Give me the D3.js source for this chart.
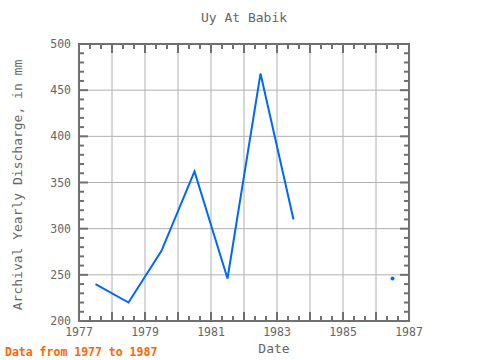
<!DOCTYPE html>
<html><head><meta charset="utf-8">
<script src="https://cdn.jsdelivr.net/npm/d3@7/dist/d3.min.js"></script>
<style>body{margin:0;background:#fff}svg{display:block}text{font-family:"DejaVu Sans Mono",monospace}</style>
</head><body><svg id="c" width="480" height="360"></svg>
<script>
const years = [1977.5, 1978.5, 1979.5, 1980.5, 1981.5, 1982.5, 1983.5, 1986.5];
const values = [240, 220, 276, 362, 246, 468, 310, 246];
const segments = [[0,1,2,3,4,5,6],[7]];
const xTicks = [1977, 1979, 1981, 1983, 1985, 1987];
const yTicks = [200, 250, 300, 350, 400, 450, 500];

const svg = d3.select("#c");
const L=79, R=409, T=44, B=321;
const x = d3.scaleLinear().domain([1977,1987]).range([L,R]);
const y = d3.scaleLinear().domain([200,500]).range([B,T]);
const axisCol="#707070", gridCol="#b0b0b0", txtCol="#666666";

// grid
const g = svg.append("g");
d3.range(1978,1987).forEach(v=>g.append("line").attr("x1",x(v)).attr("x2",x(v)).attr("y1",T).attr("y2",B).attr("stroke",gridCol).attr("stroke-width",1));
[250,300,350,400,450].forEach(v=>g.append("line").attr("x1",L).attr("x2",R).attr("y1",y(v)).attr("y2",y(v)).attr("stroke",gridCol).attr("stroke-width",1));

// ticks
const tk = svg.append("g").attr("stroke",axisCol).attr("stroke-width",2);
d3.range(0,31).forEach(i=>{
  const v=1977+i/3; const major = i%3===0; const len = major?9:5;
  tk.append("line").attr("x1",x(v)).attr("x2",x(v)).attr("y1",B).attr("y2",B-len);
  tk.append("line").attr("x1",x(v)).attr("x2",x(v)).attr("y1",T).attr("y2",T+len);
});
d3.range(200,501,10).forEach(v=>{
  const major = v%50===0; const len = major?9:5;
  tk.append("line").attr("y1",y(v)).attr("y2",y(v)).attr("x1",L).attr("x2",L+len);
  tk.append("line").attr("y1",y(v)).attr("y2",y(v)).attr("x1",R).attr("x2",R-len);
});
svg.append("rect").attr("x",L).attr("y",T).attr("width",R-L).attr("height",B-T).attr("fill","none").attr("stroke",axisCol).attr("stroke-width",2);

// labels
svg.selectAll(".xl").data(xTicks).enter().append("text").attr("x",d=>x(d)).attr("y",336).attr("text-anchor","middle").attr("font-size",11.5).attr("fill",txtCol).text(d=>d);
svg.selectAll(".yl").data(yTicks).enter().append("text").attr("x",71).attr("y",d=>y(d)+4).attr("text-anchor","end").attr("font-size",11.5).attr("fill",txtCol).text(d=>d);

svg.append("text").attr("x",244).attr("y",22).attr("text-anchor","middle").attr("font-size",13).attr("fill",txtCol).text("Uy At Babik");
svg.append("text").attr("x",274).attr("y",353).attr("text-anchor","middle").attr("font-size",13).attr("fill",txtCol).text("Date");
svg.append("text").attr("transform","translate(22,185) rotate(-90)").attr("text-anchor","middle").attr("font-size",13).attr("fill",txtCol).text("Archival Yearly Discharge, in mm");
svg.append("text").attr("x",5).attr("y",356).attr("font-size",11.5).attr("font-weight","bold").attr("fill","#ff6600").text("Data from 1977 to 1987");

// data
const line = d3.line().x(i=>x(years[i])).y(i=>y(values[i]));
segments.forEach(s=>{
  if(s.length>1) svg.append("path").attr("d",line(s)).attr("fill","none").attr("stroke","#0066ff").attr("stroke-width",2);
  else svg.append("circle").attr("cx",x(years[s[0]])).attr("cy",y(values[s[0]])).attr("r",2).attr("fill","#0066ff");
});
</script></body></html>
